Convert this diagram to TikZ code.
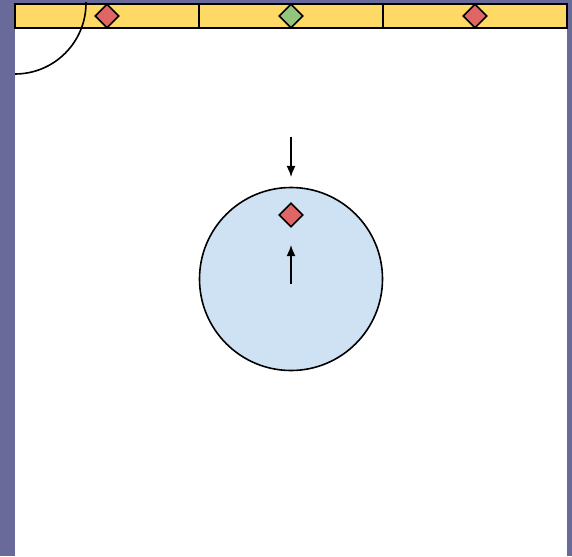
\documentclass[tikz,border=0pt]{standalone}
\usetikzlibrary{shapes.geometric,arrows.meta}
\definecolor{frame}{HTML}{6A6A9A}
\definecolor{bar}{HTML}{FFD966}
\definecolor{redgem}{HTML}{E06666}
\definecolor{greengem}{HTML}{93C47D}
\definecolor{ballblue}{HTML}{CFE2F3}
\begin{document}
\begin{tikzpicture}[x=1pt,y=-1pt,line width=1.6pt]
\tikzstyle{cell} = [rectangle, draw=black, fill=bar, minimum width=184pt, minimum height=24pt, inner sep=0pt]
\tikzstyle{gem} = [diamond, draw=black, minimum size=24pt, inner sep=0pt]
\tikzstyle{ball} = [circle, draw=black, fill=ballblue, minimum size=183pt, inner sep=0pt]
\useasboundingbox (0,0) rectangle (572,556);
\fill[frame] (0,0) rectangle (572,556);
\fill[white] (15,4) rectangle (567,556);
% top bar
\node (L)[cell] at (107,16) {};
\node (M)[cell] at (291,16) {};
\node (R)[cell] at (475,16) {};
\node (gL)[gem, fill=redgem] at (L.center) {};
\node (gM)[gem, fill=greengem] at (M.center) {};
\node (gR)[gem, fill=redgem] at (R.center) {};
% corner arc
\begin{scope}
\clip (15,3) rectangle (567,556);
\draw (15,3) circle [radius=71pt];
\end{scope}
% ball
\node (B)[ball] at (291,279) {};
\node (gB)[gem, fill=redgem] at (291,215) {};
\coordinate (inA) at (291,137);
\coordinate (inB) at (291,177);
\coordinate (upA) at (291,284);
\coordinate (upB) at (291,245);
\draw [-{Latex[length=11pt,width=9pt]}] (inA) -- (inB);
\draw [-{Latex[length=11pt,width=9pt]}] (upA) -- (upB);
\end{tikzpicture}
\end{document}
